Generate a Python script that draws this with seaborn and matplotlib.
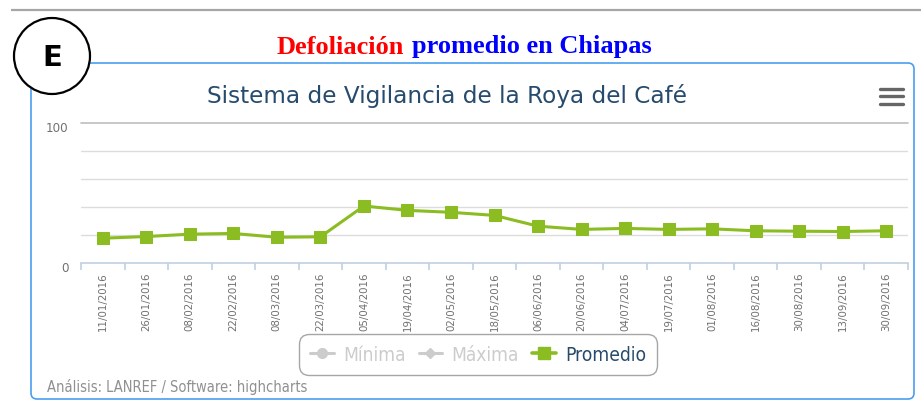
import matplotlib
matplotlib.use('Agg')
import matplotlib.pyplot as plt
import matplotlib.transforms as mtransforms
from matplotlib.lines import Line2D
from matplotlib.patches import Circle, FancyBboxPatch
import seaborn as sns
import pandas as pd

fechas = ['11/01/2016', '26/01/2016', '08/02/2016', '22/02/2016', '08/03/2016',
          '22/03/2016', '05/04/2016', '19/04/2016', '02/05/2016', '18/05/2016',
          '06/06/2016', '20/06/2016', '04/07/2016', '19/07/2016', '01/08/2016',
          '16/08/2016', '30/08/2016', '13/09/2016', '30/09/2016']
promedio = [17.7, 18.9, 20.6, 21.1, 18.4, 18.7, 40.7, 37.6, 36.2, 34.0,
            26.3, 24.0, 24.7, 24.0, 24.4, 23.0, 22.7, 22.5, 23.0]
y_ticks = [0, 100]
grid_vals = [20, 40, 60, 80]
series_names = ['Mínima', 'Máxima', 'Promedio']

verde = '#8bbc21'
df = pd.DataFrame({'fecha': fechas, 'promedio': promedio})

sns.set_style('white')
plt.rcParams['font.family'] = ['DejaVu Sans']

W, H = 921, 406
fig = plt.figure(figsize=(W / 100, H / 100), dpi=100)

# decoration layer in pixel coordinates
deco = fig.add_axes([0, 0, 1, 1], zorder=0)
deco.set_xlim(0, W)
deco.set_ylim(H, 0)
deco.axis('off')
deco.set_facecolor('none')

deco.plot([11, W], [11, 11], color='#a6a6a6', lw=1.6, solid_capstyle='butt')
deco.add_patch(FancyBboxPatch((31, 64), 883, 336, boxstyle='round,pad=0,rounding_size=6',
                              fc='white', ec='#4a9ef0', lw=1.2))
deco.add_patch(Circle((52, 57), 38, fc='white', ec='black', lw=1.6, zorder=5))
deco.text(52, 58, 'E', ha='center', va='center', fontsize=21, fontweight='bold',
          family='DejaVu Sans', color='black', zorder=6)

deco.text(404, 47, 'Defoliación', ha='right', va='center', color='#ff0000',
          fontsize=19, fontweight='bold', family='Liberation Serif')
deco.text(412, 47, 'promedio en Chiapas', ha='left', va='center', color='#0000ff',
          fontsize=19, fontweight='bold', family='Liberation Serif')

deco.text(447, 96, 'Sistema de Vigilancia de la Roya del Café', ha='center', va='center',
          color='#274b6d', fontsize=16.7)

for yy in [89.5, 97, 104.5]:
    deco.plot([880, 903], [yy, yy], color='#666666', lw=2.4, solid_capstyle='round')

deco.text(47, 387, 'Análisis: LANREF / Software: highcharts', ha='left', va='center',
          color='#909090', fontsize=10.5, fontstretch='condensed')

# chart
ax = fig.add_axes([81 / W, 1 - 264 / H, 827 / W, 140 / H], zorder=2)
ax.set_facecolor('none')
sns.lineplot(data=df, x='fecha', y='promedio', sort=False, color=verde, lw=2.2,
             marker='s', markersize=8, markeredgecolor=verde, ax=ax, legend=False)

ax.set_xlim(-0.5, len(fechas) - 0.5)
ax.set_ylim(0, 100)
ax.set_xlabel('')
ax.set_ylabel('')

for g in grid_vals:
    ax.axhline(g, color='#dcdcdc', lw=1, zorder=0)
ax.axhline(100, color='#bdbdbd', lw=1.2, zorder=0, clip_on=False)

for s in ['top', 'right', 'left']:
    ax.spines[s].set_visible(False)
ax.spines['bottom'].set_color('#c0d0e0')
ax.spines['bottom'].set_linewidth(1.2)

ax.set_xticks(range(len(fechas)))
ax.set_xticklabels(fechas, rotation=90, fontsize=7.4, color='#707070')
ax.set_xticks([i - 0.5 for i in range(len(fechas) + 1)], minor=True)
ax.tick_params(axis='x', which='major', length=0, pad=6)
ax.tick_params(axis='x', which='minor', length=5, color='#c0d0e0', width=1.2, direction='out')
ax.xaxis.set_ticks_position('bottom')

ax.set_yticks(y_ticks)
ax.set_yticklabels([str(v) for v in y_ticks], fontsize=8.6, color='#707070')
ax.tick_params(axis='y', length=0, pad=9)
off = mtransforms.ScaledTranslation(0, -2.5 / 72, fig.dpi_scale_trans)
for lab in ax.get_yticklabels():
    lab.set_transform(lab.get_transform() + off)

handles = [
    Line2D([], [], color='#cccccc', lw=2.2, marker='o', markersize=7),
    Line2D([], [], color='#cccccc', lw=2.2, marker='D', markersize=5.5),
    Line2D([], [], color=verde, lw=2.6, marker='s', markersize=8),
]
leg = fig.legend(handles, series_names, loc='center', bbox_to_anchor=(478 / W, 1 - 355.5 / H),
                 ncol=3, frameon=True, handlelength=1.25, handletextpad=0.47,
                 columnspacing=0.68, borderpad=0.55, fancybox=True, edgecolor='#909090',
                 prop={'size': 13.8, 'stretch': 'condensed'})
leg.get_frame().set_linewidth(1.0)
leg.get_frame().set_boxstyle('round,pad=0,rounding_size=0.5')
leg.set_zorder(3)
cols = ['#cccccc', '#cccccc', '#274b6d']
for t, c in zip(leg.get_texts(), cols):
    t.set_color(c)

fig.savefig('out.png', dpi=100)
